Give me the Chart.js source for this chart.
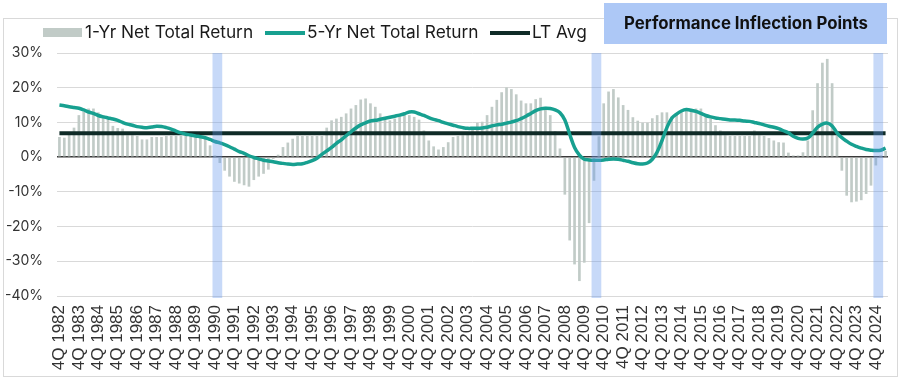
<!DOCTYPE html>
<html><head><meta charset="utf-8">
<script src="https://cdn.jsdelivr.net/npm/chart.js@4.4.1/dist/chart.umd.min.js"></script>
<style>html,body{margin:0;padding:0;background:#fff;}canvas{display:block;}</style>
</head><body>
<canvas id="c" width="904" height="379"></canvas>
<script>
// ---------- DATA ----------
const quarters = [];
for (let y = 1982, q = 4; quarters.length < 171;) { quarters.push(q + 'Q ' + y); q++; if (q > 4) { q = 1; y++; } }

const oneYrReturn = [
  5.8, 5.6, 6.5, 8.5, 12.1, 13.1, 14.0, 14.0, 12.9, 12.1,
  10.9, 9.0, 8.4, 8.2, 6.3, 6.3, 6.1, 5.1, 5.1, 5.8,
  5.8, 5.8, 6.1, 6.1, 6.1, 6.1, 6.1, 6.1, 5.8, 5.8,
  5.3, 3.4, 0.5, -1.7, -3.9, -5.6, -7.1, -7.6, -8.1, -8.5,
  -6.6, -5.6, -4.8, -3.6, -0.5, 0.7, 2.9, 4.2, 5.3, 6.1,
  6.1, 6.1, 6.1, 6.1, 6.1, 8.5, 10.6, 11.1, 11.6, 12.6,
  14.0, 15.0, 16.6, 16.9, 15.5, 14.5, 12.6, 10.9, 10.6, 11.1,
  11.9, 12.4, 12.1, 11.6, 10.8, 7.7, 4.8, 3.1, 2.2, 2.9,
  4.3, 5.8, 6.1, 6.3, 6.8, 8.5, 9.9, 10.2, 12.1, 14.5,
  16.5, 18.7, 20.1, 19.6, 18.1, 16.3, 15.5, 15.5, 16.7, 17.1,
  14.5, 12.1, 7.5, 2.5, -10.8, -24.0, -30.9, -35.7, -30.4, -19.0,
  -6.8, 6.0, 15.5, 18.9, 19.6, 17.2, 15.0, 13.6, 11.5, 10.5,
  9.9, 9.9, 11.2, 12.1, 12.9, 12.9, 11.7, 12.4, 12.9, 13.5,
  13.8, 14.0, 14.0, 12.1, 11.1, 9.2, 7.7, 6.3, 6.1, 6.1,
  6.1, 6.1, 6.1, 7.7, 6.3, 6.1, 5.5, 4.8, 4.3, 4.2,
  1.3, 0.5, 0.5, 1.4, 4.8, 13.5, 21.3, 27.2, 28.3, 21.3,
  6.3, -3.9, -11.1, -13.0, -12.8, -12.4, -10.6, -8.2, -2.4, 0.5,
  1.8
];

const fiveYrReturn = [
  15.0, 14.8, 14.5, 14.3, 14.1, 13.6, 13.0, 12.6, 12.0, 11.6,
  11.3, 11.0, 10.6, 10.0, 9.5, 9.2, 8.8, 8.6, 8.5, 8.7,
  8.9, 8.8, 8.5, 8.1, 7.5, 7.0, 6.6, 6.4, 6.1, 5.9,
  5.6, 5.1, 4.5, 4.1, 3.6, 3.0, 2.3, 1.6, 1.1, 0.4,
  -0.1, -0.5, -0.9, -1.1, -1.3, -1.6, -1.8, -2.0, -2.1, -2.0,
  -1.9, -1.5, -1.0, -0.3, 0.8, 1.8, 2.8, 4.0, 5.0, 6.2,
  7.3, 8.4, 9.3, 9.9, 10.4, 10.6, 10.9, 11.2, 11.5, 11.8,
  12.1, 12.5, 13.0, 13.0, 12.5, 12.0, 11.4, 10.9, 10.5, 10.0,
  9.6, 9.2, 8.8, 8.5, 8.3, 8.3, 8.3, 8.4, 8.6, 9.0,
  9.3, 9.5, 9.8, 10.1, 10.5, 11.1, 11.8, 12.6, 13.4, 13.9,
  14.1, 14.0, 13.6, 12.8, 10.7, 6.6, 2.8, 0.6, -0.6, -0.8,
  -0.9, -0.9, -0.8, -0.6, -0.5, -0.6, -0.9, -1.2, -1.6, -1.9,
  -2.0, -1.7, -0.6, 1.5, 4.8, 8.5, 11.2, 12.4, 13.3, 13.7,
  13.5, 13.2, 12.6, 12.0, 11.6, 11.3, 11.1, 10.9, 10.7, 10.7,
  10.6, 10.4, 10.3, 10.0, 9.7, 9.3, 8.9, 8.6, 8.2, 7.6,
  7.0, 6.0, 5.4, 5.2, 5.5, 6.9, 8.6, 9.5, 9.8, 9.0,
  7.0, 5.6, 4.6, 3.7, 3.1, 2.6, 2.2, 2.0, 1.9, 2.0,
  2.6
];

const LT_AVG = 6.9;
const highlightRanges = [['4Q 1990', '1Q 1991'], ['2Q 2010', '3Q 2010'], ['4Q 2024', '1Q 2025']];
const legendLabels = ['1-Yr Net Total Return', '5-Yr Net Total Return', 'LT Avg'];
const boxTitle = 'Performance Inflection Points';

// ---------- STYLE ----------
const BAR_COLOR = '#c1cbc7';
const TEAL = '#17a090';
const DARK = '#0f2b27';

const chromePlugin = {
  id: 'chrome',
  beforeDraw(chart) {
    const ctx = chart.ctx;
    ctx.save();
    ctx.fillStyle = '#fff';
    ctx.fillRect(0, 0, chart.width, chart.height);
    ctx.strokeStyle = '#d9d9d9';
    ctx.lineWidth = 1;
    ctx.strokeRect(3.5, 18.5, 894, 358);
    ctx.restore();
  },
  afterDatasetsDraw(chart) {
    const ctx = chart.ctx, xs = chart.scales.x, area = chart.chartArea;
    const step = xs.getPixelForValue(1) - xs.getPixelForValue(0);
    ctx.save();
    ctx.fillStyle = 'rgba(100,150,235,0.36)';
    highlightRanges.forEach(([a, b]) => {
      const x1 = xs.getPixelForValue(quarters.indexOf(a)) - step / 2;
      const x2 = xs.getPixelForValue(quarters.indexOf(b)) + step / 2;
      ctx.fillRect(x1, area.top, x2 - x1, area.bottom - area.top + 2);
    });
    ctx.restore();
  },
  afterDraw(chart) {
    const ctx = chart.ctx;
    ctx.save();
    // title box
    ctx.fillStyle = '#adc8f6';
    ctx.fillRect(604, 3, 283, 41);
    ctx.fillStyle = '#111';
    ctx.font = 'bold 16.8px Inter, "Liberation Sans", sans-serif';
    ctx.textAlign = 'center';
    ctx.textBaseline = 'middle';
    ctx.fillText(boxTitle, 746, 24);
    // legend
    ctx.textAlign = 'left';
    ctx.font = '17.3px Inter, "Liberation Sans", sans-serif';
    ctx.fillStyle = BAR_COLOR;
    ctx.fillRect(43, 28, 39, 9);
    ctx.fillStyle = '#1a1a1a';
    ctx.fillText(legendLabels[0], 85, 33);
    ctx.lineWidth = 4;
    ctx.strokeStyle = TEAL;
    ctx.beginPath(); ctx.moveTo(265, 33); ctx.lineTo(305, 33); ctx.stroke();
    ctx.fillText(legendLabels[1], 307, 33);
    ctx.strokeStyle = DARK;
    ctx.beginPath(); ctx.moveTo(490, 33); ctx.lineTo(530, 33); ctx.stroke();
    ctx.fillText(legendLabels[2], 532, 33);
    ctx.restore();
  }
};

new Chart(document.getElementById('c'), {
  data: {
    labels: quarters,
    datasets: [
      { type: 'line', label: legendLabels[1], data: fiveYrReturn, borderColor: TEAL, borderWidth: 3.5,
        pointRadius: 0, tension: 0.35, order: 1 },
      { type: 'line', label: legendLabels[2], data: quarters.map(() => LT_AVG), borderColor: DARK, borderWidth: 4,
        pointRadius: 0, tension: 0, order: 2 },
      { type: 'bar', label: legendLabels[0], data: oneYrReturn, backgroundColor: BAR_COLOR,
        barPercentage: 0.55, categoryPercentage: 1, order: 3 }
    ]
  },
  options: {
    responsive: false,
    animation: false,
    devicePixelRatio: 1,
    layout: { padding: { top: 53, right: 16, left: 0, bottom: 0 } },
    plugins: { legend: { display: false }, tooltip: { enabled: false } },
    scales: {
      x: {
        offset: true,
        grid: { display: false, drawTicks: false },
        border: { display: false },
        ticks: {
          autoSkip: false, maxRotation: 90, minRotation: 90, padding: 9,
          font: { family: '"Liberation Sans", Arial, sans-serif', size: 17 }, color: '#333',
          callback: (v, i) => (i % 4 === 0 ? quarters[i] : '')
        },
        afterFit: s => { s.height = 83; s.paddingLeft = 0; s.paddingRight = 0; }
      },
      y: {
        min: -40, max: 30,
        ticks: { stepSize: 10, padding: 14, callback: v => v + '%',
          font: { family: 'Inter, "Liberation Sans", sans-serif', size: 14 }, color: '#333' },
        grid: { drawTicks: false,
          color: c => (c.tick && c.tick.value === 0 ? '#3a3a3a' : '#d9d9d9'),
          lineWidth: c => (c.tick && c.tick.value === 0 ? 1.4 : 1) },
        border: { display: false },
        afterFit: s => { s.width = 57; }
      }
    }
  },
  plugins: [chromePlugin]
});
</script>
</body></html>
